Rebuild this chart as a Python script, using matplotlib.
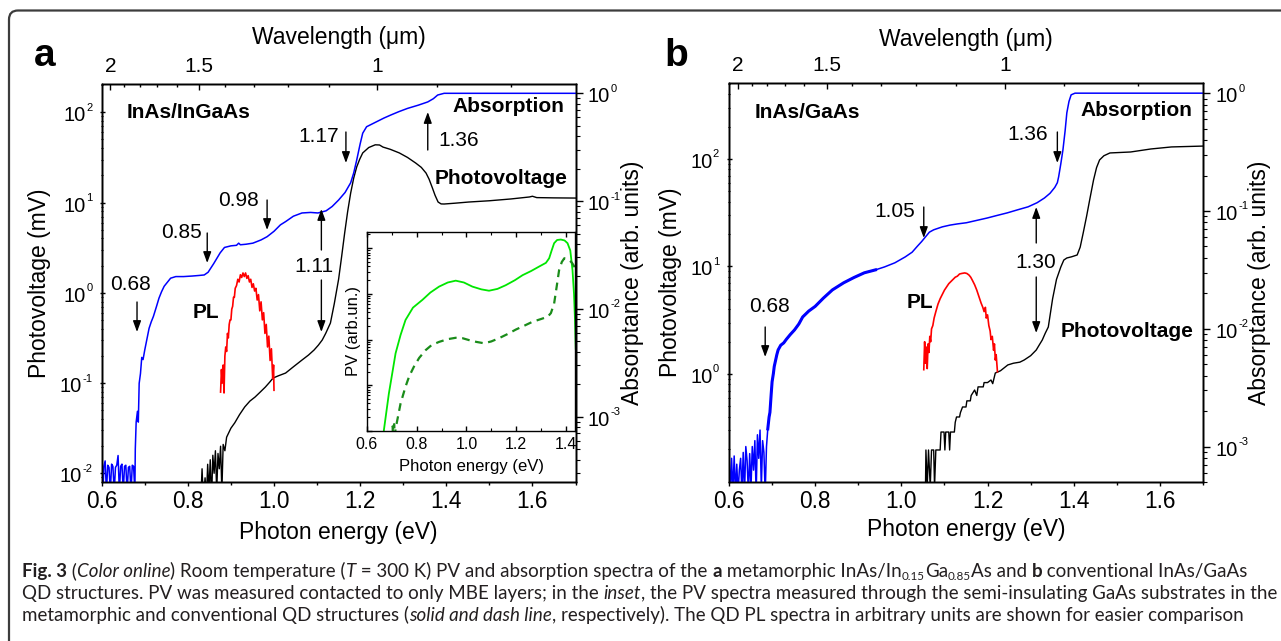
import numpy as np
import matplotlib
matplotlib.use("Agg")
import matplotlib.pyplot as plt
from matplotlib.ticker import FixedLocator, MultipleLocator, LogLocator, NullFormatter, FixedFormatter
from matplotlib.transforms import IdentityTransform, blended_transform_factory, offset_copy
from matplotlib.patches import FancyBboxPatch

plt.rcParams['font.family'] = ['Liberation Sans', 'DejaVu Sans']
plt.rcParams['mathtext.fontset'] = 'custom'
plt.rcParams['mathtext.rm'] = 'Liberation Sans'
plt.rcParams['axes.unicode_minus'] = False
plt.rcParams['axes.linewidth'] = 1.0

# ---------------- data: panel a (InAs/InGaAs) ----------------
a_abs_E = [0.600, 0.603, 0.605, 0.608, 0.611, 0.614, 0.617, 0.620, 0.623, 0.626, 0.629, 0.632, 0.635, 0.638,
           0.641, 0.644, 0.647, 0.650, 0.653, 0.656, 0.659, 0.662, 0.665, 0.668, 0.671, 0.674, 0.677,
           0.678, 0.680, 0.683, 0.685, 0.687, 0.690, 0.693, 0.696, 0.700, 0.705,
           0.710, 0.715, 0.720, 0.727, 0.733, 0.739, 0.745, 0.753, 0.760, 0.772,
           0.790, 0.810, 0.825, 0.838, 0.847, 0.860, 0.875, 0.885, 0.900, 0.913,
           0.918, 0.922, 0.935, 0.951, 0.970, 0.984, 1.000, 1.015, 1.027, 1.045,
           1.065, 1.085, 1.102, 1.121, 1.135, 1.150, 1.165, 1.178, 1.185, 1.192,
           1.200, 1.206, 1.215, 1.235, 1.255, 1.272, 1.290, 1.310, 1.335, 1.357,
           1.370, 1.380, 1.395, 1.500, 1.700]
a_abs_log = [-3.45, -3.70, -3.46, -3.41, -3.70, -3.45, -3.47, -3.70, -3.44, -3.46, -3.70, -3.47, -3.45, -3.36,
             -3.70, -3.46, -3.44, -3.70, -3.46, -3.45, -3.70, -3.47, -3.46, -3.70, -3.45, -3.46, -3.70,
             -3.30, -3.05, -2.95, -3.05, -2.69, -2.60, -2.45, -2.47, -2.38, -2.28,
             -2.18, -2.12, -2.07, -1.98, -1.90, -1.84, -1.79, -1.75, -1.715, -1.70,
             -1.70, -1.695, -1.69, -1.685, -1.66, -1.58, -1.48, -1.43, -1.415, -1.41,
             -1.39, -1.405, -1.40, -1.39, -1.36, -1.33, -1.28, -1.22, -1.19, -1.14,
             -1.11, -1.105, -1.11, -1.09, -1.05, -0.99, -0.92, -0.83, -0.74, -0.62,
             -0.47, -0.37, -0.31, -0.27, -0.23, -0.20, -0.17, -0.14, -0.11, -0.08,
             -0.05, -0.016, 0.0, 0.0, 0.0]

a_pv_E = [0.830, 0.833, 0.836, 0.840, 0.843, 0.846, 0.849, 0.852, 0.855, 0.858,
          0.861, 0.864, 0.867, 0.870, 0.873, 0.876, 0.879, 0.882, 0.886, 0.890,
          0.895, 0.900, 0.909, 0.920, 0.932, 0.944, 0.956, 0.968, 0.980, 0.990,
          0.998, 1.010, 1.027, 1.045, 1.065, 1.080, 1.093, 1.103, 1.112, 1.120,
          1.131, 1.140, 1.150, 1.157, 1.164, 1.171, 1.178, 1.185, 1.192, 1.199,
          1.206, 1.220, 1.235, 1.245, 1.253, 1.270, 1.291, 1.310, 1.329, 1.342,
          1.353, 1.360, 1.367, 1.374, 1.381, 1.388, 1.395, 1.420, 1.452, 1.500,
          1.550, 1.593, 1.600, 1.610, 1.650, 1.700]
a_pv_log = [-2.30, -1.95, -2.30, -2.05, -2.30, -1.90, -2.20, -1.85, -2.30, -1.80,
            -2.00, -1.75, -2.20, -1.78, -1.95, -1.70, -2.20, -1.68, -1.75, -1.60,
            -1.55, -1.50, -1.44, -1.35, -1.265, -1.20, -1.155, -1.10, -1.044, -0.99,
            -0.944, -0.92, -0.889, -0.82, -0.745, -0.69, -0.634, -0.58, -0.523, -0.45,
            -0.335, -0.12, 0.15, 0.40, 0.66, 0.90, 1.105, 1.27, 1.394, 1.48,
            1.55, 1.61, 1.64, 1.638, 1.615, 1.59, 1.55, 1.50, 1.438, 1.39,
            1.327, 1.26, 1.172, 1.08, 1.006, 0.985, 0.984, 0.993, 1.006, 1.02,
            1.04, 1.062, 1.07, 1.055, 1.052, 1.05]

a_pl_E = [0.876, 0.878, 0.880, 0.882, 0.884, 0.886, 0.888, 0.890, 0.892, 0.894,
          0.896, 0.898, 0.900, 0.902, 0.904, 0.906, 0.908, 0.910, 0.913, 0.916,
          0.919, 0.922, 0.925, 0.928, 0.931, 0.934, 0.937, 0.940, 0.943, 0.946,
          0.949, 0.952, 0.955, 0.958, 0.961, 0.964, 0.967, 0.970, 0.973, 0.976,
          0.979, 0.982, 0.985, 0.988, 0.991, 0.994, 0.997, 0.999, 1.000]
a_pl_log = [-1.10, -0.85, -1.00, -0.80, -1.11, -0.70, -0.60, -0.65, -0.45, -0.50,
            -0.35, -0.30, -0.30, -0.18, -0.15, -0.05, -0.05, 0.05, 0.08, 0.15,
            0.12, 0.20, 0.17, 0.22, 0.18, 0.22, 0.16, 0.19, 0.12, 0.15,
            0.06, 0.10, 0.02, 0.05, -0.08, -0.02, -0.20, -0.10, -0.30, -0.22,
            -0.45, -0.35, -0.60, -0.48, -0.75, -0.62, -0.95, -0.80, -1.08]

# inset (substrate-side PV), arb. units (log10)
in_meta_E = [0.665, 0.668, 0.675, 0.688, 0.700, 0.715, 0.735, 0.755, 0.785, 0.823,
             0.855, 0.890, 0.925, 0.957, 0.990, 1.024, 1.060, 1.091, 1.125, 1.158,
             1.195, 1.226, 1.260, 1.293, 1.320, 1.333, 1.343, 1.353, 1.365, 1.380,
             1.395, 1.407, 1.418, 1.427, 1.433, 1.437, 1.440]
in_meta_log = [-0.2, 0.02, 0.30, 0.82, 1.21, 1.70, 2.10, 2.43, 2.70, 2.87,
               3.03, 3.16, 3.25, 3.29, 3.25, 3.16, 3.10, 3.07, 3.11, 3.19,
               3.30, 3.41, 3.50, 3.60, 3.68, 3.78, 3.95, 4.11, 4.18, 4.19,
               4.17, 4.11, 3.95, 3.52, 3.00, 2.43, 1.80]
in_conv_E = [0.700, 0.703, 0.706, 0.709, 0.712, 0.715, 0.722, 0.735, 0.755, 0.770,
             0.789, 0.810, 0.836, 0.860, 0.890, 0.925, 0.957, 0.985, 1.010, 1.040,
             1.071, 1.100, 1.131, 1.165, 1.199, 1.235, 1.266, 1.300, 1.327, 1.340,
             1.353, 1.363, 1.373, 1.384, 1.394, 1.405, 1.414, 1.425, 1.434, 1.440]
in_conv_log = [-0.2, 0.1, -0.2, 0.15, -0.1, 0.05, 0.24, 0.60, 0.97, 1.20,
               1.41, 1.60, 1.77, 1.88, 1.95, 2.01, 2.04, 2.03, 1.99, 1.95,
               1.92, 1.96, 2.03, 2.12, 2.22, 2.31, 2.39, 2.45, 2.50, 2.58,
               2.79, 3.15, 3.52, 3.70, 3.78, 3.77, 3.74, 3.68, 3.60, 3.55]

# ---------------- data: panel b (InAs/GaAs) ----------------
b_abs_E = [0.600, 0.603, 0.606, 0.609, 0.612, 0.615, 0.618, 0.621, 0.624, 0.627,
           0.630, 0.633, 0.636, 0.639, 0.642, 0.645, 0.648, 0.651, 0.654, 0.657,
           0.660, 0.663, 0.666, 0.669, 0.672, 0.675, 0.678, 0.681, 0.684, 0.687,
           0.690, 0.693, 0.695, 0.698, 0.700, 0.703, 0.705, 0.708, 0.711, 0.714,
           0.720, 0.727, 0.733, 0.742, 0.752, 0.762, 0.771, 0.785, 0.800, 0.819,
           0.840, 0.866, 0.890, 0.914, 0.940, 0.961, 0.985, 1.009, 1.025, 1.037,
           1.047, 1.056, 1.065, 1.075, 1.095, 1.113, 1.130, 1.151, 1.175, 1.199,
           1.220, 1.246, 1.270, 1.294, 1.315, 1.332, 1.345, 1.356, 1.362, 1.365,
           1.370, 1.375, 1.380, 1.384, 1.389, 1.394, 1.403, 1.500, 1.700]
b_abs_log = [-3.05, -3.40, -3.10, -3.40, -3.08, -3.40, -3.15, -3.40, -3.20, -3.10,
             -3.40, -3.05, -3.40, -3.00, -3.12, -3.40, -3.06, -3.35, -3.00, -3.20,
             -2.95, -3.40, -2.90, -3.10, -2.86, -3.35, -2.95, -3.05, -3.40, -3.00,
             -2.85, -2.75, -2.71, -2.55, -2.45, -2.38, -2.32, -2.27, -2.22, -2.18,
             -2.14, -2.12, -2.09, -2.05, -2.01, -1.96, -1.90, -1.85, -1.81, -1.74,
             -1.67, -1.61, -1.565, -1.525, -1.50, -1.475, -1.44, -1.39, -1.35, -1.30,
             -1.26, -1.22, -1.18, -1.16, -1.135, -1.12, -1.11, -1.10, -1.08, -1.06,
             -1.04, -1.016, -0.99, -0.965, -0.93, -0.89, -0.85, -0.80, -0.76, -0.71,
             -0.60, -0.48, -0.32, -0.167, -0.07, -0.014, 0.0, 0.0, 0.0]

b_pv_E = [1.000, 1.056, 1.057, 1.060, 1.063, 1.067, 1.070, 1.075, 1.077, 1.080,
          1.085, 1.090, 1.092, 1.099, 1.101, 1.103, 1.110, 1.112, 1.114, 1.123,
          1.125, 1.128, 1.135, 1.137, 1.142, 1.150, 1.152, 1.160, 1.162, 1.170,
          1.175, 1.178, 1.190, 1.192, 1.200, 1.208, 1.212, 1.218, 1.230, 1.247,
          1.260, 1.275, 1.285, 1.300, 1.313, 1.320, 1.327, 1.334, 1.341, 1.351,
          1.360, 1.370, 1.377, 1.384, 1.395, 1.408, 1.415, 1.422, 1.430, 1.437,
          1.446, 1.453, 1.460, 1.470, 1.484, 1.532, 1.579, 1.627, 1.700]
b_pv_log = [-1.05, -1.05, -0.707, -1.05, -0.707, -1.05, -0.707, -0.707, -1.05, -0.707,
            -0.707, -0.707, -0.54, -0.54, -0.707, -0.54, -0.54, -0.707, -0.54, -0.54,
            -0.45, -0.40, -0.40, -0.36, -0.307, -0.307, -0.25, -0.25, -0.20, -0.149,
            -0.20, -0.12, -0.12, -0.08, -0.08, -0.056, -0.09, 0.009, 0.03, 0.084,
            0.10, 0.11, 0.13, 0.17, 0.223, 0.27, 0.316, 0.38, 0.437, 0.70,
            0.88, 0.995, 1.06, 1.079, 1.09, 1.107, 1.18, 1.312, 1.47, 1.619,
            1.805, 1.92, 1.991, 2.03, 2.056, 2.065, 2.093, 2.112, 2.12]

b_pl_E = [1.052, 1.054, 1.056, 1.058, 1.060, 1.062, 1.064, 1.066, 1.068, 1.070,
          1.073, 1.076, 1.080, 1.085, 1.090, 1.095, 1.100, 1.105, 1.110, 1.115,
          1.120, 1.125, 1.130, 1.135, 1.140, 1.147, 1.152, 1.157, 1.161, 1.165,
          1.170, 1.175, 1.180, 1.185, 1.189, 1.192, 1.195, 1.197, 1.200, 1.203,
          1.206, 1.208, 1.211, 1.214, 1.216, 1.218, 1.220, 1.223]
b_pl_log = [0.04, 0.30, 0.10, 0.25, 0.05, 0.28, 0.20, 0.35, 0.30, 0.42,
            0.45, 0.52, 0.58, 0.65, 0.70, 0.74, 0.78, 0.81, 0.84, 0.86,
            0.88, 0.90, 0.91, 0.93, 0.935, 0.94, 0.935, 0.92, 0.90, 0.87,
            0.83, 0.78, 0.72, 0.66, 0.62, 0.58, 0.62, 0.52, 0.55, 0.45,
            0.40, 0.32, 0.35, 0.22, 0.28, 0.13, 0.18, 0.02]

# wavelength axis
HC = 1.24
wl_major = [2.0, 1.5, 1.0]
wl_labels = ['2', '1.5', '1']
wl_minor = [1.9, 1.8, 1.7, 1.6, 1.4, 1.3, 1.2, 1.1, 0.9, 0.8]

# log-axis decade labels
a_left_decades = [1e-2, 1e-1, 1e0, 1e1, 1e2]
b_left_decades = [1e0, 1e1, 1e2]
right_decades = [1e-3, 1e-2, 1e-1, 1e0]

# annotation labels
a_marks = ['0.68', '0.85', '0.98', '1.11', '1.17', '1.36']
b_marks = ['0.68', '1.05', '1.30', '1.36']

caption = [
    [("Fig. 3", 'b'), (" (", 'n'), ("Color online", 'i'), (") Room temperature (", 'n'), ("T", 'i'),
     (" = 300 K) PV and absorption spectra of the ", 'n'), ("a", 'b'), (" metamorphic InAs/In", 'n'),
     ("0.15", 's'), ("Ga", 'n'), ("0.85", 's'), ("As and ", 'n'), ("b", 'b'), (" conventional InAs/GaAs", 'n')],
    [("QD structures. PV was measured contacted to only MBE layers; in the ", 'n'), ("inset", 'i'),
     (", the PV spectra measured through the semi-insulating GaAs substrates in the", 'n')],
    [("metamorphic and conventional QD structures (", 'n'), ("solid and dash line", 'i'),
     (", respectively). The QD PL spectra in arbitrary units are shown for easier comparison", 'n')],
]

# ---------------- figure ----------------
W, H = 1281, 641
fig = plt.figure(figsize=(W / 100, H / 100), dpi=100)
renderer = fig.canvas.get_renderer()
FS = 16.5      # axis labels
FX = 16.3      # bottom tick labels
FT = 15.0      # top tick labels
FY = 14.5      # log tick label base
FSUP = 8.0     # superscript
FA = 15        # annotations


def px_axes(x0, y0, x1, y1):
    return fig.add_axes([x0 / W, 1 - y1 / H, (x1 - x0) / W, (y1 - y0) / H])


def lg(v):
    return 10 ** np.asarray(v)


def text_width(s, **kw):
    t = fig.text(0, 0, s, transform=IdentityTransform(), **kw)
    w = t.get_window_extent(renderer).width
    t.remove()
    return w


def log_labels(a, side, values, gap):
    base = blended_transform_factory(a.transAxes, a.transData)
    w10 = text_width('10', fontsize=FY)
    for v in values:
        sup = str(int(round(np.log10(v))))
        if side == 'right':
            a.text(1, v, '10', transform=offset_copy(base, fig=fig, x=gap, y=-9.0, units='dots'),
                   ha='left', va='baseline', fontsize=FY, clip_on=False)
            a.text(1, v, sup, transform=offset_copy(base, fig=fig, x=gap + w10 + 0.5, y=1.5, units='dots'),
                   ha='left', va='baseline', fontsize=FSUP, clip_on=False)
        else:
            ws = text_width(sup, fontsize=FSUP)
            a.text(0, v, sup, transform=offset_copy(base, fig=fig, x=-gap, y=1.5, units='dots'),
                   ha='right', va='baseline', fontsize=FSUP, clip_on=False)
            a.text(0, v, '10', transform=offset_copy(base, fig=fig, x=-gap - ws - 0.5, y=-9.0, units='dots'),
                   ha='right', va='baseline', fontsize=FY, clip_on=False)


def setup_panel(box, ylim_l, ylim_r, left_major, lab_pos, gaps):
    ax = px_axes(*box)
    ax_r = ax.twinx()
    ax_t = ax.twiny()
    ax.set_xlim(0.6, 1.7)
    ax_t.set_xlim(0.6, 1.7)
    ax.set_yscale('log'); ax.set_ylim(*ylim_l)
    ax_r.set_yscale('log'); ax_r.set_ylim(*ylim_r)
    ax.xaxis.set_major_locator(MultipleLocator(0.2))
    ax.xaxis.set_minor_locator(MultipleLocator(0.1))
    ax.yaxis.set_major_locator(FixedLocator(left_major))
    ax.yaxis.set_minor_locator(LogLocator(subs=np.arange(2, 10), numticks=30))
    ax.yaxis.set_minor_formatter(NullFormatter())
    ax_r.yaxis.set_major_locator(FixedLocator(right_decades))
    ax_r.yaxis.set_minor_locator(LogLocator(subs=np.arange(2, 10), numticks=30))
    ax_r.yaxis.set_minor_formatter(NullFormatter())
    ax_t.xaxis.set_major_locator(FixedLocator([HC / l for l in wl_major]))
    ax_t.xaxis.set_major_formatter(FixedFormatter(wl_labels))
    ax_t.xaxis.set_minor_locator(FixedLocator([HC / l for l in wl_minor]))
    ax.tick_params(axis='x', which='major', direction='out', length=2.9, width=1, labelsize=FX, pad=3)
    ax.tick_params(axis='x', which='minor', direction='out', length=1.8, width=1)
    ax_t.tick_params(axis='x', which='major', direction='in', length=4.3, width=1, labelsize=FT, pad=5.5)
    ax_t.tick_params(axis='x', which='minor', direction='in', length=2.4, width=1)
    ax.tick_params(axis='y', which='major', direction='inout', length=3.6, width=1, labelleft=False)
    ax.tick_params(axis='y', which='minor', direction='inout', length=2.0, width=0.8)
    ax_r.tick_params(axis='y', which='major', direction='out', length=4.8, width=1, labelright=False)
    ax_r.tick_params(axis='y', which='minor', direction='out', length=3.0, width=0.8)
    for a in (ax, ax_r, ax_t):
        for s in a.spines.values():
            s.set_linewidth(1.0)
    log_labels(ax, 'left', left_major, gaps[0])
    log_labels(ax_r, 'right', right_decades, gaps[1])
    xl = ax.set_xlabel('Photon energy (eV)', fontsize=FS)
    ax.xaxis.set_label_coords(0.5, lab_pos[0]); xl.set_va('center')
    yl = ax.set_ylabel('Photovoltage (mV)', fontsize=FS)
    ax.yaxis.set_label_coords(lab_pos[1], 0.5); yl.set_va('center')
    yr = ax_r.set_ylabel('Absorptance (arb. units)', fontsize=FS)
    ax_r.yaxis.set_label_coords(lab_pos[2], 0.5); yr.set_va('center')
    xt = ax_t.set_xlabel('Wavelength (μm)', fontsize=FS)
    ax_t.xaxis.set_label_coords(0.5, lab_pos[3]); xt.set_va('center')
    return ax, ax_r, ax_t


def note(ax, x, ypx, s, top, bot, ha='left', bold=False, size=FA):
    ax.annotate(s, xy=(x, (bot - ypx) / (bot - top)), xycoords=('data', 'axes fraction'),
                ha=ha, va='center', fontsize=size, fontweight='bold' if bold else 'normal')


def arrow(ax, x, y0, y1, top, bot):
    ax.annotate('', xy=(x, (bot - y1) / (bot - top)), xytext=(x, (bot - y0) / (bot - top)),
                xycoords=('data', 'axes fraction'), textcoords=('data', 'axes fraction'),
                arrowprops=dict(arrowstyle='-|>,head_length=0.55,head_width=0.2', color='k',
                                lw=1.0, shrinkA=0, shrinkB=0, mutation_scale=12))


# ---- panel a ----
A_T, A_B = 84, 482
ax, ax_r, ax_t = setup_panel((101.7, A_T, 575.5, A_B), (0.00801, 206), (2.48e-4, 1.22),
                             a_left_decades, (-0.128, -0.132, 1.12, 1.118), (9, 12))
ax.plot(a_pv_E, lg(a_pv_log), color='black', lw=1.0)
ax.plot(a_pl_E, lg(a_pl_log), color='#ff0000', lw=1.2)
ax_r.plot(a_abs_E, lg(a_abs_log), color='#0000ff', lw=1.1)

note(ax_r, 0.659, 113, 'InAs/InGaAs', A_T, A_B, bold=True)
note(ax_r, 1.414, 107, 'Absorption', A_T, A_B, bold=True)
note(ax_r, 1.372, 178, 'Photovoltage', A_T, A_B, bold=True)
note(ax_r, 0.81, 312, 'PL', A_T, A_B, bold=True)
note(ax_r, 0.666, 285, a_marks[0], A_T, A_B, ha='center')
note(ax_r, 0.833, 233, a_marks[1], A_T, A_B, ha='right')
note(ax_r, 0.965, 200, a_marks[2], A_T, A_B, ha='right')
note(ax_r, 1.093, 267, a_marks[3], A_T, A_B, ha='center')
note(ax_r, 1.150, 136, a_marks[4], A_T, A_B, ha='right')
note(ax_r, 1.381, 140, a_marks[5], A_T, A_B, ha='left')
arrow(ax_r, 0.682, 302, 332, A_T, A_B)
arrow(ax_r, 0.845, 233, 263, A_T, A_B)
arrow(ax_r, 0.984, 200, 230, A_T, A_B)
arrow(ax_r, 1.110, 250, 209, A_T, A_B)
arrow(ax_r, 1.110, 280, 332, A_T, A_B)
arrow(ax_r, 1.167, 132, 163, A_T, A_B)
arrow(ax_r, 1.357, 150, 112, A_T, A_B)

# inset
axi = px_axes(367, 232, 575.5, 431)
axi.set_facecolor('white')
axi.plot(in_meta_E, lg(in_meta_log), color='#00e600', lw=1.3)
axi.plot(in_conv_E, lg(in_conv_log), color='#1a8c1a', lw=1.6, ls=(0, (3.5, 2.5)))
axi.set_xlim(0.6, 1.439)
axi.set_yscale('log')
axi.set_ylim(1, 10 ** 4.355)
axi.xaxis.set_major_locator(MultipleLocator(0.2))
axi.xaxis.set_minor_locator(MultipleLocator(0.1))
axi.yaxis.set_major_locator(LogLocator(numticks=20))
axi.yaxis.set_minor_locator(LogLocator(subs=np.arange(2, 10), numticks=30))
axi.yaxis.set_major_formatter(NullFormatter())
axi.yaxis.set_minor_formatter(NullFormatter())
axi.tick_params(which='major', direction='in', length=3.5, width=1, labelsize=11.5, pad=4, top=True)
axi.tick_params(which='minor', direction='in', length=2, width=0.8, top=True)
for s in axi.spines.values():
    s.set_linewidth(1.0)
xli = axi.set_xlabel('Photon energy (eV)', fontsize=12)
axi.xaxis.set_label_coords(0.5, -0.176); xli.set_va('center')
yli = axi.set_ylabel('PV (arb.un.)', fontsize=12)
axi.yaxis.set_label_coords(-0.067, 0.5); yli.set_va('center')

# ---- panel b ----
B_T, B_B = 83, 482
bx, bx_r, bx_t = setup_panel((729, B_T, 1203, B_B), (0.0989, 509), (5.0e-4, 1.22),
                             b_left_decades, (-0.12, -0.124, 1.12, 1.108), (10, 12.5))
bx.plot(b_pv_E, lg(b_pv_log), color='black', lw=1.0)
bx.plot(b_pl_E, lg(b_pl_log), color='#ff0000', lw=1.2)
bx_r.plot(b_abs_E, lg(b_abs_log), color='#0000ff', lw=1.1)
# the noisy low-energy part of the absorption trace appears thicker
n_noisy = b_abs_E.index(0.940) + 1
bx_r.plot(b_abs_E[30:n_noisy], lg(b_abs_log[30:n_noisy]), color='#0000ff', lw=2.2)

note(bx_r, 0.66, 113, 'InAs/GaAs', B_T, B_B, bold=True)
note(bx_r, 1.415, 111, 'Absorption', B_T, B_B, bold=True)
note(bx_r, 1.37, 332, 'Photovoltage', B_T, B_B, bold=True)
note(bx_r, 1.075, 303, 'PL', B_T, B_B, ha='right', bold=True)
note(bx_r, 0.693, 307, b_marks[0], B_T, B_B, ha='center')
note(bx_r, 1.032, 212, b_marks[1], B_T, B_B, ha='right')
note(bx_r, 1.313, 263, b_marks[2], B_T, B_B, ha='center')
note(bx_r, 1.341, 135, b_marks[3], B_T, B_B, ha='right')
arrow(bx_r, 0.684, 327, 357, B_T, B_B)
arrow(bx_r, 1.052, 207, 238, B_T, B_B)
arrow(bx_r, 1.313, 243, 207, B_T, B_B)
arrow(bx_r, 1.313, 277, 333, B_T, B_B)
arrow(bx_r, 1.362, 132, 163, B_T, B_B)

# panel letters
fig.text(45 / W, 1 - 66 / H, 'a', fontsize=28, fontweight='bold', ha='center', va='baseline')
fig.text(676 / W, 1 - 66 / H, 'b', fontsize=28, fontweight='bold', ha='center', va='baseline')

# frame
fig.add_artist(FancyBboxPatch((9, -60), 1400, H - 10.5 + 60, boxstyle='round,pad=0,rounding_size=9',
                              transform=IdentityTransform(), fill=False, edgecolor='#3c3c3c', linewidth=1.6))

# caption
CAP_FONT = 'Lato'


def cprops(style, size):
    p = dict(family=CAP_FONT, size=size, color='#231f20')
    if style == 'b':
        p['weight'] = 'bold'
    if style == 'i':
        p['style'] = 'italic'
    if style == 's':
        p['size'] = size * 0.62
    return p


def adv(s, p):
    t1 = fig.text(0, 0, 'x' + s + 'x', transform=IdentityTransform(), **p)
    t2 = fig.text(0, 0, 'xx', transform=IdentityTransform(), **p)
    w = t1.get_window_extent(renderer).width - t2.get_window_extent(renderer).width
    t1.remove(); t2.remove()
    return w


w_line1 = sum(adv(s, cprops(st, 10)) for s, st in caption[0])
cap_size = 10 * (1225 / w_line1)
for line, yb in zip(caption, [577, 599, 621]):
    x = 22
    for s, st in line:
        p = cprops(st, cap_size)
        dy = -3 if st == 's' else 0
        fig.text(x, H - yb + dy, s, transform=IdentityTransform(), ha='left', va='baseline', **p)
        x += adv(s, p)

fig.savefig('out.png', dpi=100)
